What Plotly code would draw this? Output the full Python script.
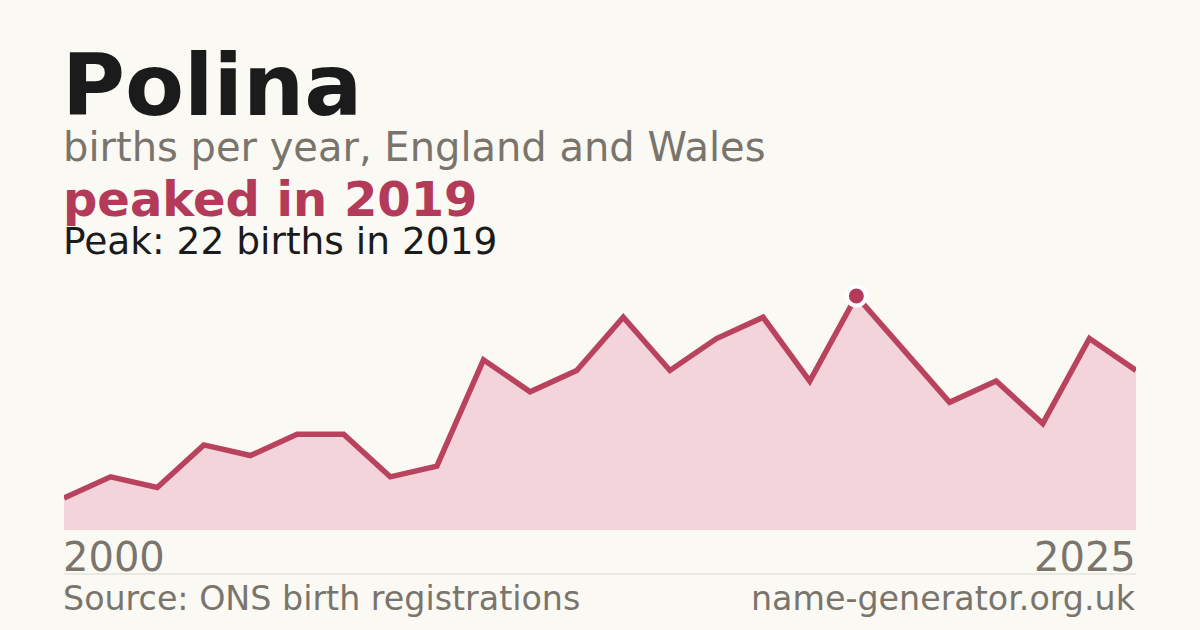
import plotly.graph_objects as go

# data
name = "Polina"
years = list(range(2002, 2026))
births = [3, 5, 4, 8, 7, 9, 9, 5, 6, 16, 13, 15, 20, 15, 18, 20, 14, 22, 17, 12, 14, 10, 18, 15]
end_labels = ["2000", "2025"]

W, H = 1200, 630
CRIMSON = "#b33a58"
GREY = "#7a756c"
INK = "#1b1b1b"
BG = "#faf9f4"
FONT = "DejaVu Sans"

peak = max(births)
peak_year = years[births.index(peak)]


def py(px):
    # pixel row -> paper y
    return 1 - px / H


def px_x(px):
    return px / W


fig = go.Figure()

fig.add_trace(go.Scatter(
    x=years, y=births,
    mode="lines",
    line=dict(color="#b9435f", width=5.5),
    fill="tozeroy",
    fillcolor="#f2d4da",
    hoverinfo="skip",
))

fig.add_trace(go.Scatter(
    x=[peak_year], y=[peak],
    mode="markers",
    marker=dict(size=19, color=CRIMSON, line=dict(color="white", width=4)),
    hoverinfo="skip",
))

annotations = [
    dict(text=f"<b>{name}</b>", x=px_x(60), y=py(114), size=86, color=INK),
    dict(text="births per year, England and Wales", x=px_x(61), y=py(161), size=40, color=GREY),
    dict(text=f"<b>peaked in {peak_year}</b>", x=px_x(61), y=py(216), size=48, color=CRIMSON),
    dict(text=f"Peak: {peak} births in {peak_year}", x=px_x(61), y=py(255), size=37.5, color=INK),
    dict(text=end_labels[0], x=px_x(61), y=py(571), size=40, color=GREY),
    dict(text="Source: ONS birth registrations", x=px_x(61), y=py(611), size=33.3, color=GREY),
]

layout_ann = []
for a in annotations:
    layout_ann.append(dict(
        text=a["text"], x=a["x"], y=a["y"], xref="paper", yref="paper",
        xanchor="left", yanchor="bottom", showarrow=False,
        font=dict(family=FONT, size=a["size"], color=a["color"]),
        yshift=-a["size"] * 0.27,
    ))
for text, size, ypix in [(end_labels[1], 40, 571), ("name-generator.org.uk", 33.3, 611)]:
    layout_ann.append(dict(
        text=text, x=px_x(1138), y=py(ypix), xref="paper", yref="paper",
        xanchor="right", yanchor="bottom", showarrow=False,
        font=dict(family=FONT, size=size, color=GREY),
        yshift=-size * 0.27,
    ))

fig.update_layout(
    width=W, height=H,
    margin=dict(l=0, r=0, t=0, b=0),
    paper_bgcolor=BG,
    plot_bgcolor="rgba(0,0,0,0)",
    showlegend=False,
    annotations=layout_ann,
    shapes=[dict(type="line", xref="paper", yref="paper",
                 x0=px_x(64), x1=px_x(1136), y0=py(574), y1=py(574),
                 line=dict(color="#dcd9d2", width=1))],
    xaxis=dict(domain=[px_x(64), px_x(1136)], range=[years[0], years[-1]],
               visible=False, fixedrange=True),
    yaxis=dict(domain=[py(530), py(272)], range=[0, peak * 258 / 234],
               visible=False, fixedrange=True),
)

fig.write_html("out.html", config={"displayModeBar": False})

# drop the browser's default page margin so the figure sits at 0,0
with open("out.html", encoding="utf-8") as f:
    page = f.read()
page = page.replace("<head>", "<head><style>html,body{margin:0;padding:0;background:%s}</style>" % BG, 1)
with open("out.html", "w", encoding="utf-8") as f:
    f.write(page)
